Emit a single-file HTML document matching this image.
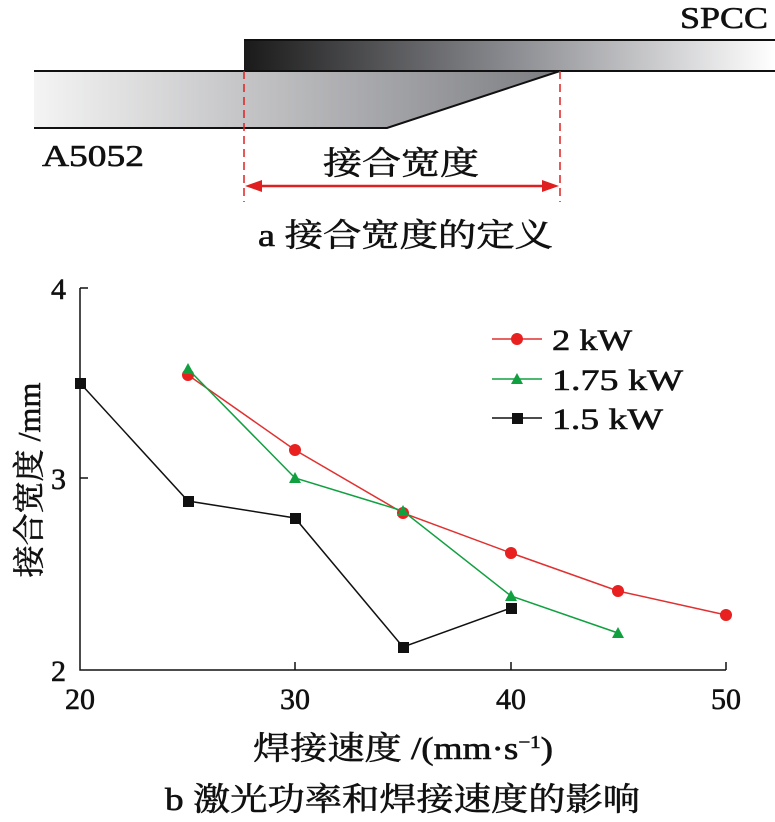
<!DOCTYPE html>
<html><head><meta charset="utf-8"><style>
body{margin:0;background:#fff}
svg text{font-family:"Liberation Serif","Noto Serif CJK SC",serif;fill:#111;stroke:#111;stroke-width:0.6}
</style></head><body>
<svg width="775" height="817" viewBox="0 0 775 817" xmlns="http://www.w3.org/2000/svg">
<defs>
<linearGradient id="g1" x1="244" x2="775" y1="0" y2="0" gradientUnits="userSpaceOnUse">
<stop offset="0" stop-color="#1a1a1a"/><stop offset="0.5" stop-color="#8a8b90"/><stop offset="1" stop-color="#ffffff"/></linearGradient>
<linearGradient id="g2" x1="34" x2="560" y1="0" y2="0" gradientUnits="userSpaceOnUse">
<stop offset="0" stop-color="#f4f4f4"/><stop offset="1" stop-color="#7c7d82"/></linearGradient>
</defs>
<rect x="244" y="40" width="531" height="31" fill="url(#g1)"/>
<line x1="244" y1="40" x2="775" y2="40" stroke="#111" stroke-width="2"/>
<polygon points="34,71 560,71 387,128 34,128" fill="url(#g2)"/>
<line x1="34" y1="71" x2="775" y2="71" stroke="#111" stroke-width="2"/>
<polyline points="34,128 387,128 560,71" fill="none" stroke="#111" stroke-width="2"/>
<line x1="244" y1="71" x2="244" y2="202" stroke="#e02020" stroke-width="1.5" stroke-dasharray="8,5"/>
<line x1="560" y1="71" x2="560" y2="202" stroke="#e02020" stroke-width="1.5" stroke-dasharray="8,5"/>
<line x1="258" y1="186" x2="546" y2="186" stroke="#e02020" stroke-width="2.5"/>
<polygon points="245,186 262,180 262,192" fill="#e02020"/>
<polygon points="559,186 542,180 542,192" fill="#e02020"/>
<text x="680" y="28" font-size="31" textLength="88" lengthAdjust="spacingAndGlyphs">SPCC</text>
<text x="42" y="166" font-size="31" textLength="102" lengthAdjust="spacingAndGlyphs">A5052</text>
<text x="323" y="174" font-size="32" textLength="156" lengthAdjust="spacingAndGlyphs">接合宽度</text>
<text x="258" y="246" font-size="32" textLength="295" lengthAdjust="spacingAndGlyphs">a 接合宽度的定义</text>

<polyline points="80,288 80,670 726,670" fill="none" stroke="#111" stroke-width="1.5"/>
<g stroke="#111" stroke-width="1.5">
<line x1="80" y1="288" x2="88" y2="288"/><line x1="80" y1="478" x2="88" y2="478"/>
<line x1="295" y1="670" x2="295" y2="662"/><line x1="511" y1="670" x2="511" y2="662"/><line x1="726" y1="670" x2="726" y2="662"/>
</g>
<g font-size="30" text-anchor="end"><text x="66" y="299">4</text><text x="66" y="489">3</text><text x="66" y="681">2</text></g>
<g font-size="30" text-anchor="middle"><text x="80" y="709">20</text><text x="295" y="709">30</text><text x="511" y="709">40</text><text x="726" y="709">50</text></g>
<text x="253" y="759" font-size="32" textLength="300" lengthAdjust="spacingAndGlyphs">焊接速度 /(mm·s<tspan font-size="18" dy="-11">−1</tspan><tspan dy="11">)</tspan></text>
<text transform="translate(40,480) rotate(-90)" font-size="32" text-anchor="middle">接合宽度 /mm</text>
<text x="165" y="810" font-size="32" textLength="475" lengthAdjust="spacingAndGlyphs">b 激光功率和焊接速度的影响</text>

<polyline points="188,375 295,450 403,513 511,553 618,591 726,615" fill="none" stroke="#e03030" stroke-width="1.5"/>
<g fill="#e82020"><circle cx="188" cy="375" r="6"/><circle cx="295" cy="450" r="6"/><circle cx="403" cy="513" r="6"/><circle cx="511" cy="553" r="6"/><circle cx="618" cy="591" r="6"/><circle cx="726" cy="615" r="6"/></g>
<polyline points="188,369 295,478 403,511 511,596 618,633" fill="none" stroke="#10a040" stroke-width="1.5"/>
<g fill="#10a040">
<polygon points="188,363 194,374 182,374"/><polygon points="295,472 301,483 289,483"/><polygon points="403,505 409,516 397,516"/><polygon points="511,590 517,601 505,601"/><polygon points="618,627 624,638 612,638"/></g>
<polyline points="80,383 188,501 295,518 403,647 511,608" fill="none" stroke="#111" stroke-width="1.5"/>
<g fill="#111"><rect x="75" y="378" width="11" height="11"/><rect x="183" y="496" width="11" height="11"/><rect x="290" y="513" width="11" height="11"/><rect x="398" y="642" width="11" height="11"/><rect x="506" y="603" width="11" height="11"/></g>

<line x1="492" y1="339" x2="542" y2="339" stroke="#e03030" stroke-width="1.5"/><circle cx="517" cy="339" r="6" fill="#e82020"/>
<text x="552" y="350" font-size="30" textLength="80" lengthAdjust="spacingAndGlyphs">2 kW</text>
<line x1="492" y1="379" x2="542" y2="379" stroke="#10a040" stroke-width="1.5"/><polygon points="517,373 523,384 511,384" fill="#10a040"/>
<text x="552" y="390" font-size="30" textLength="131" lengthAdjust="spacingAndGlyphs">1.75 kW</text>
<line x1="492" y1="418" x2="542" y2="418" stroke="#111" stroke-width="1.5"/><rect x="512" y="413" width="11" height="11" fill="#111"/>
<text x="552" y="429" font-size="30" textLength="111" lengthAdjust="spacingAndGlyphs">1.5 kW</text>
</svg>
</body></html>
